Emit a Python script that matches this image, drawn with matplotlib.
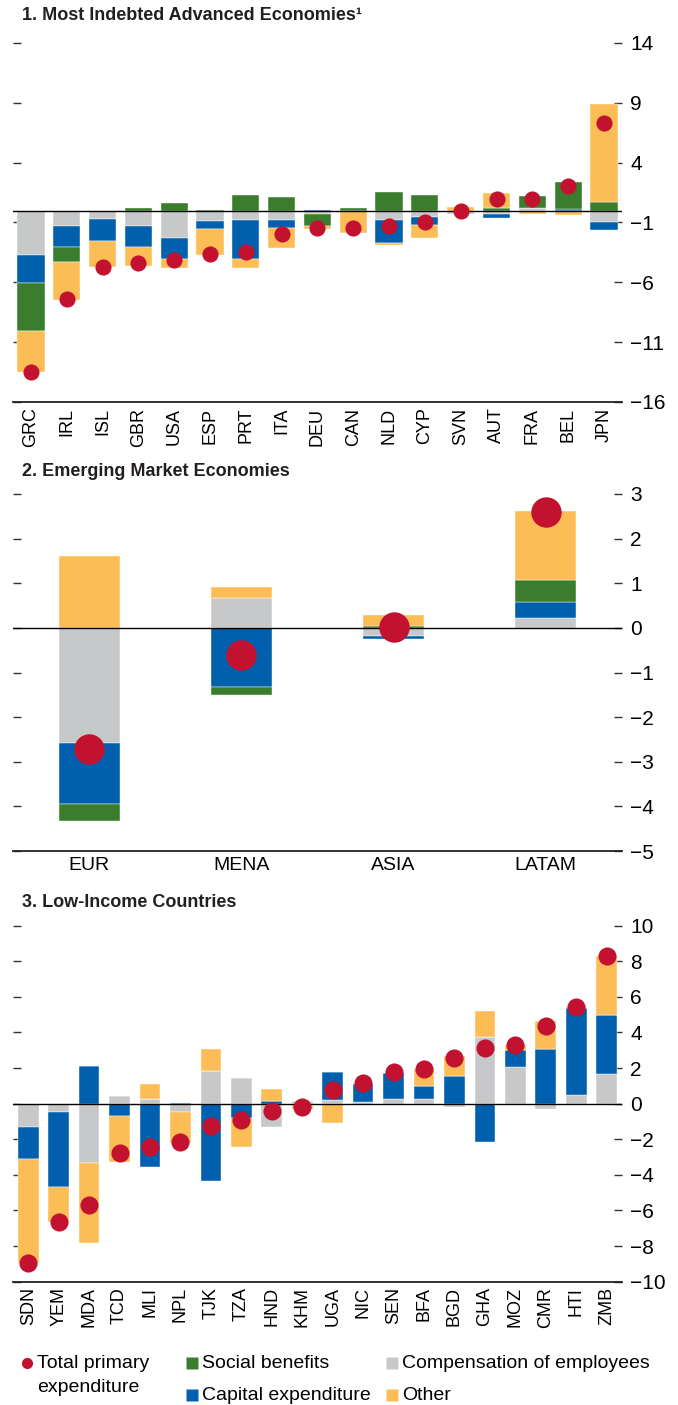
import numpy as np
import matplotlib
matplotlib.use("Agg")
import matplotlib.pyplot as plt

plt.rcParams['font.family'] = ['Liberation Sans', 'DejaVu Sans']

# colours
GREEN = "#3A7D2C"
BLUE = "#0060AD"
GREY = "#C7C8CA"
ORANGE = "#FDBD56"
RED = "#C3122F"

# 1. Most indebted advanced economies
adv = ["GRC", "IRL", "ISL", "GBR", "USA", "ESP", "PRT", "ITA", "DEU", "CAN",
       "NLD", "CYP", "SVN", "AUT", "FRA", "BEL", "JPN"]
adv_comp = [-3.72, -1.28, -0.75, -1.30, -2.33, -0.89, -0.80, -0.80, -0.25, 0.0,
            -0.80, -0.53, -0.30, -0.30, 0.20, 0.0, -0.94]
adv_capex = [-2.33, -1.80, -1.78, -1.78, -1.72, -0.69, -3.25, -0.69, 0.08, 0.0,
             -1.92, -0.69, 0.0, -0.30, 0.0, 0.10, -0.72]
adv_social = [-4.06, -1.20, 0.0, 0.17, 0.61, 0.08, 1.33, 1.14, -1.05, 0.22,
              1.58, 1.28, 0.0, 0.22, 1.00, 2.28, 0.72]
adv_other = [-3.39, -3.17, -2.17, -1.53, -0.72, -2.14, -0.78, -1.64, -0.28, -1.86,
             -0.14, -1.11, 0.28, 1.28, -0.28, -0.36, 8.19]
adv_total = [-13.5, -7.4, -4.7, -4.4, -4.1, -3.64, -3.44, -1.97, -1.5, -1.5,
             -1.28, -1.0, 0.0, 0.94, 0.94, 2.03, 7.28]

# 2. Emerging market economies
em = ["EUR", "MENA", "ASIA", "LATAM"]
em_comp = [-2.59, 0.66, -0.19, 0.22]
em_capex = [-1.35, -1.32, -0.07, 0.36]
em_social = [-0.39, -0.18, 0.04, 0.49]
em_other = [1.60, 0.25, 0.24, 1.54]
em_total = [-2.71, -0.60, 0.02, 2.60]

# 3. Low-income countries
lic = ["SDN", "YEM", "MDA", "TCD", "MLI", "NPL", "TJK", "TZA", "HND", "KHM",
       "UGA", "NIC", "SEN", "BFA", "BGD", "GHA", "MOZ", "CMR", "HTI", "ZMB"]
lic_comp = [-1.29, -0.49, -3.31, 0.41, 0.24, -0.49, 1.85, 1.46, -1.29, 0.15,
            0.21, 0.10, 0.24, 0.24, -0.17, 3.76, 2.08, -0.32, 0.49, 1.69]
lic_capex = [-1.83, -4.18, 2.12, -0.69, -3.58, 0.05, -4.36, -0.80, 0.15, 0.0,
             1.55, 0.99, 1.46, 0.75, 1.55, -2.13, 0.94, 3.07, 4.87, 3.28]
lic_social = [0.0] * 20
lic_other = [-5.84, -1.97, -4.53, -2.57, 0.84, -1.70, 1.20, -1.61, 0.67, -0.32,
             -1.07, 0.0, 0.0, 0.94, 1.12, 1.44, 0.28, 1.57, 0.09, 3.33]
lic_total = [-8.93, -6.63, -5.69, -2.79, -2.42, -2.13, -1.25, -0.92, -0.39, -0.17,
             0.75, 1.14, 1.76, 1.97, 2.55, 3.15, 3.30, 4.38, 5.45, 8.30]


def draw_panel(ax, labels, comp, capex, social, other, total, width, dot, ticks, rot):
    x = np.arange(len(labels))
    pos = np.zeros(len(x))
    neg = np.zeros(len(x))
    # stacking order: compensation, capital, social, other
    for vals, c in [(comp, GREY), (capex, BLUE), (social, GREEN), (other, ORANGE)]:
        v = np.asarray(vals, dtype=float)
        bottom = np.where(v >= 0, pos, neg)
        ax.bar(x, v, width, bottom=bottom, color=c, edgecolor="white", linewidth=0.3, zorder=2)
        pos += np.clip(v, 0, None)
        neg += np.clip(v, None, 0)
    ax.axhline(0, color="black", lw=1, zorder=3)
    ax.scatter(x, total, s=dot, color=RED, zorder=4, linewidths=0)

    ax.set_xlim(-0.5, len(labels) - 0.5)
    ax.set_ylim(ticks[0], ticks[-1])
    ax.set_yticks(ticks)
    ax.set_xticks(x)
    ax.set_xticklabels(labels, rotation=rot, fontsize=14 if rot == 0 else 13)
    for s in ["top", "left", "right"]:
        ax.spines[s].set_visible(False)
    ax.spines["bottom"].set_linewidth(1.3)
    ax.spines["bottom"].set_color("#222222")
    ax.tick_params(axis="x", length=0, pad=4)
    ax.tick_params(axis="y", left=True, right=True, labelleft=False, labelright=True,
                   direction="in", length=6, width=1, color="#333333", labelsize=15, pad=6)


fig = plt.figure(figsize=(6.78, 14.05), dpi=100)

ax1 = fig.add_axes([0.0192, 0.7139, 0.898, 0.2555])
draw_panel(ax1, adv, adv_comp, adv_capex, adv_social, adv_other, adv_total,
           0.76, 135, [-16, -11, -6, -1, 4, 9, 14], 90)
fig.text(0.032, 0.9893, "1. Most Indebted Advanced Economies¹", fontsize=13,
         fontweight="bold", va="center", color="#231F20")

ax2 = fig.add_axes([0.0192, 0.3943, 0.898, 0.2541])
draw_panel(ax2, em, em_comp, em_capex, em_social, em_other, em_total,
           0.4, 480, [-5, -4, -3, -2, -1, 0, 1, 2, 3], 0)
fig.text(0.032, 0.6645, "2. Emerging Market Economies", fontsize=13,
         fontweight="bold", va="center", color="#231F20")

ax3 = fig.add_axes([0.0192, 0.0878, 0.898, 0.2534])
draw_panel(ax3, lic, lic_comp, lic_capex, lic_social, lic_other, lic_total,
           0.68, 170, [-10, -8, -6, -4, -2, 0, 2, 4, 6, 8, 10], 90)
fig.text(0.032, 0.3575, "3. Low-Income Countries", fontsize=13,
         fontweight="bold", va="center", color="#231F20")

# legend drawn in pixel space of the figure
lax = fig.add_axes([0, 0, 1, 1], zorder=-1)
lax.set_xlim(0, 678)
lax.set_ylim(1405, 0)
lax.axis("off")
lax.plot(27, 1363, "o", color=RED, ms=8, mec="none")
lax.text(37, 1363, "Total primary", fontsize=14, va="center", ha="left")
lax.text(37, 1388, "expenditure", fontsize=14, va="center", ha="left")
items = [(192, 1363, GREEN, "Social benefits"),
         (392, 1363, GREY, "Compensation of employees"),
         (192, 1395, BLUE, "Capital expenditure"),
         (392, 1395, ORANGE, "Other")]
for lx, ly, c, t in items:
    lax.plot(lx, ly, "s", color=c, ms=8, mec="none")
    lax.text(lx + 10, ly, t, fontsize=14, va="center", ha="left")

fig.savefig("out.png", dpi=100)
